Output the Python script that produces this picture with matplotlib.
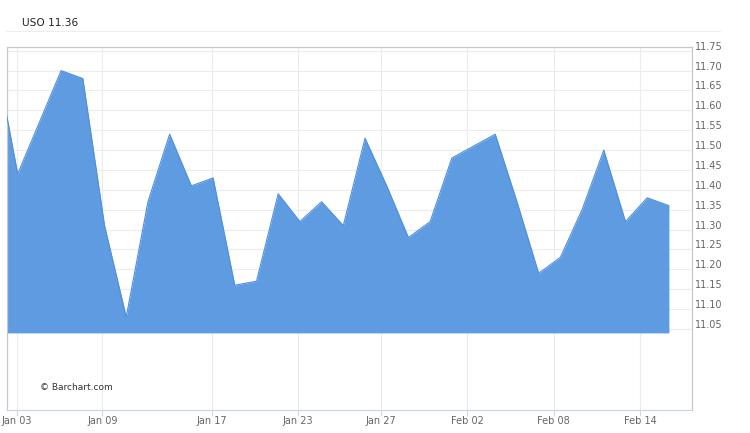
import numpy as np
import matplotlib
matplotlib.use("Agg")
import matplotlib.pyplot as plt
from matplotlib.transforms import ScaledTranslation
from matplotlib.lines import Line2D

# USO daily closes, Dec 30 through Feb 15 (trading days only)
dates = ["Dec 30", "Jan 03", "Jan 04", "Jan 05", "Jan 06", "Jan 09", "Jan 10", "Jan 11",
         "Jan 12", "Jan 13", "Jan 17", "Jan 18", "Jan 19", "Jan 20", "Jan 23", "Jan 24",
         "Jan 25", "Jan 26", "Jan 27", "Jan 30", "Jan 31", "Feb 01", "Feb 02", "Feb 03",
         "Feb 06", "Feb 07", "Feb 08", "Feb 09", "Feb 10", "Feb 13", "Feb 14", "Feb 15"]
closes = [11.73, 11.44, 11.57, 11.70, 11.68, 11.31, 11.08, 11.37,
          11.54, 11.41, 11.43, 11.16, 11.17, 11.39, 11.32, 11.37,
          11.31, 11.53, 11.41, 11.28, 11.32, 11.48, 11.51, 11.54,
          11.37, 11.19, 11.23, 11.35, 11.50, 11.32, 11.38, 11.36]
fill_base = 11.04

tick_labels = ["Jan 03", "Jan 09", "Jan 17", "Jan 23", "Jan 27", "Feb 02", "Feb 08", "Feb 14"]
y_ticks = [11.05, 11.10, 11.15, 11.20, 11.25, 11.30, 11.35, 11.40,
           11.45, 11.50, 11.55, 11.60, 11.65, 11.70, 11.75]

# layout: where barchart draws its date gridlines (in trading-day units, Jan 03 = 0)
tick_x = [-0.05, 3.9, 8.94, 12.9, 16.72, 20.71, 24.69, 28.68]

x = np.arange(len(closes)) - 1   # Dec 30 sits one step left of Jan 03

fig = plt.figure(figsize=(7.5, 4.33), dpi=100)
ax = fig.add_axes([6.7 / 750, 1 - 410 / 433, (691.7 - 6.7) / 750, (410 - 47.3) / 433])

ax.fill_between(x, closes, fill_base, color="#5f9be0", linewidth=0, zorder=2)
ax.plot(x, closes, color="#4f8fdc", lw=0.8, zorder=3)

ax.set_xlim(-0.507, 31.05)
ax.set_ylim(10.846, 11.7586)

ax.set_yticks(y_ticks)
ax.set_yticklabels(["%.2f" % v for v in y_ticks])
ax.yaxis.tick_right()
ax.tick_params(axis="y", length=0, pad=2, labelsize=7, labelcolor="#666666")
for lbl in ax.get_yticklabels():
    lbl.set_transform(lbl.get_transform() + ScaledTranslation(0, 5 / 100, fig.dpi_scale_trans))

ax.set_xticks(tick_x)
ax.set_xticklabels(tick_labels)
ax.tick_params(axis="x", length=4, width=0.8, color="#ccd6eb", pad=0.5,
               labelsize=7, labelcolor="#666666")

ax.grid(True, color="#ececec", lw=0.8, zorder=0)
ax.set_axisbelow(True)

for side in ["left", "top", "right"]:
    ax.spines[side].set_color("#c8c8c8")
    ax.spines[side].set_linewidth(0.9)
ax.spines["bottom"].set_color("#ccd6eb")
ax.spines["bottom"].set_linewidth(0.9)

# header
fig.text(22 / 750, 1 - 23 / 433, "USO 11.36", fontsize=7.6, color="#222222", va="center")
fig.add_artist(Line2D([6 / 750, 720 / 750], [1 - 31.3 / 433, 1 - 31.3 / 433],
                      transform=fig.transFigure, color="#eeeeee", lw=0.8))

fig.text(40 / 750, 1 - 387 / 433, "\u00a9 Barchart.com", fontsize=6.5, color="#333333", va="center")

fig.savefig("out.png", dpi=100)
